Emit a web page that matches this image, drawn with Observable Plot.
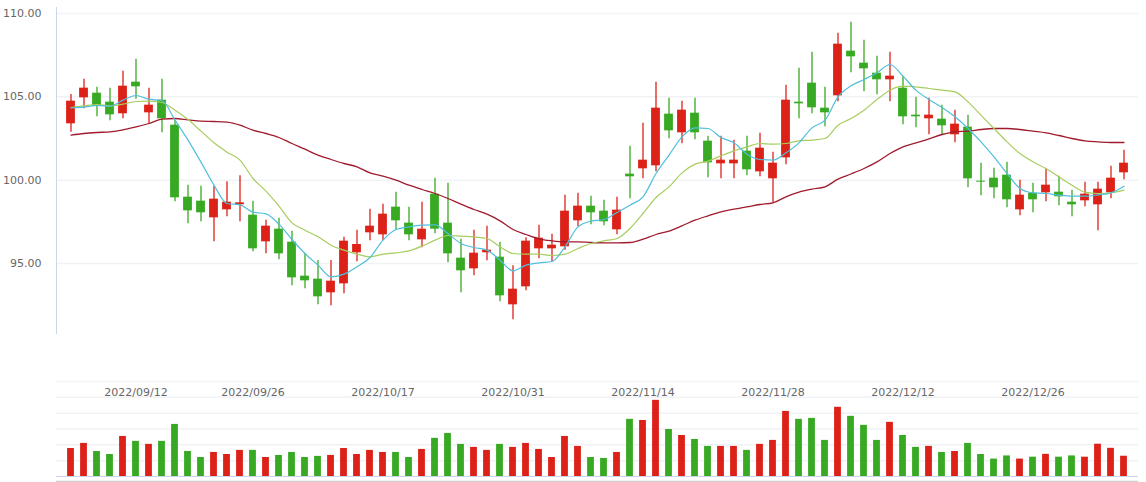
<!DOCTYPE html>
<html>
<head>
<meta charset="utf-8">
<script src="https://cdn.jsdelivr.net/npm/d3@7"></script>
<script src="https://cdn.jsdelivr.net/npm/@observablehq/plot@0.6"></script>
<style>
  html, body { margin: 0; padding: 0; background: #fff; }
  #chart svg { display: block; }
</style>
</head>
<body>
<div id="chart"></div>
<script>
// ---- Data ----
const opens = [103.38,104.94,105.22,104.68,103.98,105.88,104.04,104.80,103.30,98.98,
  98.74,97.74,98.22,98.52,97.90,96.30,97.06,96.28,94.24,94.06,
  93.24,93.78,95.64,96.84,96.72,98.38,97.42,96.42,99.16,97.42,
  95.32,94.68,95.64,95.38,92.52,93.60,95.88,95.88,96.00,97.56,
  98.44,98.14,97.02,100.36,100.68,100.86,103.96,102.84,104.02,102.34,
  100.98,100.98,101.74,100.50,100.08,101.34,104.68,105.82,104.32,105.06,
  107.74,107.02,106.42,106.02,105.52,103.90,103.68,103.66,102.72,103.18,
  99.94,100.12,100.30,98.22,99.22,99.24,99.28,98.68,98.76,98.52,
  99.24,100.44];
const closes = [104.74,105.52,104.42,103.92,105.64,105.60,104.50,103.68,98.94,98.16,
  98.04,98.86,98.68,98.64,95.88,97.24,95.58,94.14,93.96,93.00,
  93.94,96.34,96.14,97.24,97.96,97.56,96.72,97.06,97.06,95.58,
  94.56,95.62,95.80,93.06,93.46,96.34,96.52,96.10,98.14,98.44,
  98.04,97.50,98.20,100.20,101.20,104.32,102.96,104.20,102.84,101.04,
  101.20,101.20,100.62,101.92,101.02,104.80,104.58,104.34,104.04,108.16,
  107.40,106.68,106.02,106.24,103.80,103.80,103.90,103.26,103.36,100.08,
  99.88,99.54,98.82,99.10,98.82,99.70,99.00,98.52,99.16,99.46,
  100.12,101.02];
const highs = [105.14,106.06,105.58,105.52,106.54,107.26,105.52,106.06,103.60,99.70,
  99.64,99.64,99.90,100.26,98.74,97.60,97.72,96.94,95.60,95.18,
  95.18,96.58,97.00,98.26,98.56,99.28,98.38,98.68,100.12,99.82,
  96.46,97.00,97.24,96.28,94.86,96.54,97.30,96.76,99.10,99.22,
  99.04,98.80,98.98,102.04,103.42,105.88,104.92,104.74,104.92,102.64,
  102.64,102.40,102.64,102.82,101.68,105.70,106.72,107.68,105.58,108.82,
  109.48,108.40,107.44,107.68,106.24,104.98,104.92,104.50,104.20,103.90,
  101.02,100.72,101.08,100.00,99.82,100.66,100.24,99.40,99.88,99.88,
  100.84,101.80];
const lows = [102.88,104.28,103.80,103.56,103.68,104.86,103.38,102.84,98.70,97.38,
  97.50,96.30,97.80,97.50,95.70,95.58,95.22,93.66,93.48,92.52,
  92.46,93.18,95.10,96.36,96.36,97.00,96.36,95.94,96.78,95.04,
  93.24,94.26,95.16,92.70,91.62,93.36,95.28,95.12,95.80,97.20,
  97.32,97.26,96.72,98.88,100.08,100.50,102.48,102.18,102.42,100.14,
  100.08,100.08,100.26,100.20,98.64,100.92,103.68,103.98,103.20,104.70,
  106.44,105.30,105.12,104.70,103.32,103.14,102.72,102.68,102.24,99.54,
  99.06,98.88,98.34,97.86,98.04,98.70,98.46,97.80,98.40,96.96,
  98.88,100.02];
const ma5 = [104.34,104.38,104.48,104.44,104.80,105.08,104.86,104.78,103.60,102.40,
  101.08,99.70,98.60,98.52,98.08,97.98,97.36,96.44,95.60,94.90,
  94.20,94.36,94.80,95.36,96.40,97.04,97.20,97.30,97.32,96.80,
  96.20,95.96,95.80,95.20,94.56,94.90,95.04,95.12,96.00,97.20,
  97.54,97.64,98.06,98.50,99.00,100.40,101.50,102.60,103.14,103.10,
  102.56,102.24,101.56,101.24,101.20,101.64,102.24,103.14,103.60,105.00,
  105.66,106.04,106.44,106.94,106.24,105.40,104.84,104.36,103.80,103.10,
  102.30,101.40,100.40,99.50,99.24,99.20,99.10,99.04,99.04,99.12,
  99.24,99.64];
const ma10 = [104.36,104.46,104.54,104.46,104.56,104.72,104.74,104.66,104.20,103.64,
  102.94,102.24,101.68,101.20,100.10,99.34,98.44,97.44,97.00,96.60,
  96.10,95.80,95.56,95.40,95.56,95.64,95.76,96.04,96.40,96.68,
  96.64,96.60,96.50,96.00,95.60,95.56,95.56,95.48,95.56,95.90,
  96.20,96.36,96.50,97.10,98.00,98.96,99.60,100.44,100.96,101.14,
  101.46,101.76,102.00,102.20,102.16,102.20,102.36,102.40,102.50,103.30,
  103.70,104.20,104.84,105.40,105.64,105.60,105.50,105.40,105.30,104.70,
  103.90,103.10,102.30,101.60,101.10,100.70,100.20,99.70,99.28,99.20,
  99.24,99.40];
const ma30 = [102.70,102.80,102.86,102.90,103.02,103.20,103.40,103.66,103.70,103.62,
  103.54,103.52,103.48,103.30,103.00,102.80,102.56,102.20,101.86,101.50,
  101.24,101.00,100.80,100.44,100.24,100.00,99.70,99.44,99.20,98.90,
  98.56,98.24,97.96,97.56,97.04,96.74,96.48,96.36,96.30,96.30,
  96.26,96.24,96.24,96.26,96.46,96.74,96.94,97.26,97.60,97.86,
  98.10,98.26,98.40,98.54,98.64,99.00,99.28,99.46,99.60,100.06,
  100.37,100.70,101.10,101.60,102.00,102.24,102.48,102.74,102.90,102.94,
  103.04,103.10,103.10,103.04,102.94,102.84,102.68,102.50,102.36,102.30,
  102.26,102.26];
const volumes = [1.77,2.09,1.58,1.39,2.53,2.22,2.03,2.22,3.29,1.58,
  1.20,1.52,1.39,1.65,1.65,1.20,1.33,1.52,1.20,1.27,
  1.33,1.77,1.39,1.65,1.52,1.52,1.20,1.71,2.41,2.72,
  2.03,1.84,1.65,2.03,1.84,2.09,1.71,1.20,2.53,1.90,
  1.20,1.14,1.52,3.61,3.54,4.81,2.97,2.59,2.34,1.90,
  1.90,1.90,1.65,2.03,2.28,4.11,3.61,3.67,2.28,4.37,
  3.80,3.23,2.28,3.42,2.59,1.84,1.90,1.52,1.58,2.09,
  1.39,1.10,1.30,1.10,1.22,1.40,1.22,1.30,1.22,2.04,
  1.78,1.28];
const tickIndex = [5, 14, 24, 34, 44, 54, 64, 74];
const tickLabels = ["2022/09/12","2022/09/26","2022/10/17","2022/10/31",
                    "2022/11/14","2022/11/28","2022/12/12","2022/12/26"];
const priceTicks = [95, 100, 105, 110];
const volumeGrid = [1, 2, 3, 4, 5, 6];

// ---- Styles ----
const UP = "#dc2119", DOWN = "#38a923";
const C_MA5 = "#4fbfdc", C_MA10 = "#a7cd5e", C_MA30 = "#a01b2d";
const GRID = "#f0f2f5";
const AXIS = "#ccd6eb";
const TEXT = "#666";
const FONT = "'DejaVu Sans', sans-serif";

const rows = opens.map((o, i) => ({
  i, open: o, close: closes[i], high: highs[i], low: lows[i],
  ma5: ma5[i], ma10: ma10[i], ma30: ma30[i], vol: volumes[i],
  color: closes[i] >= o ? UP : DOWN
}));
const ticks = tickIndex.map((i, k) => ({i, label: tickLabels[k]}));
const xDomain = rows.map(d => d.i);

const W = 1146, ML = 56, MR = 8;

const main = Plot.plot({
  width: W, height: 340,
  marginLeft: ML, marginRight: MR, marginTop: 7, marginBottom: 7,
  style: {fontFamily: FONT, fontSize: "11px", color: TEXT, background: "#fff"},
  x: {type: "band", domain: xDomain, padding: 0, axis: null},
  y: {domain: [90.8, 110.36], axis: null},
  color: {type: "identity"},
  marks: [
    Plot.gridY(priceTicks, {stroke: GRID, strokeOpacity: 1, strokeWidth: 1.5}),
    Plot.frame({anchor: "left", stroke: AXIS}),
    Plot.axisY(priceTicks, {tickSize: 0, tickPadding: 15, tickFormat: d3.format(".2f"), fill: TEXT, fontSize: 11}),
    Plot.ruleX(rows, {x: "i", y1: "low", y2: "high", stroke: "color", strokeWidth: 1.3}),
    Plot.barY(rows, {x: "i", y1: "open", y2: "close", fill: "color", insetLeft: 2.1, insetRight: 2.1}),
    Plot.lineY(rows, {x: "i", y: "ma30", stroke: C_MA30, strokeWidth: 1.3, curve: "monotone-x"}),
    Plot.lineY(rows, {x: "i", y: "ma10", stroke: C_MA10, strokeWidth: 1.2, curve: "monotone-x"}),
    Plot.lineY(rows, {x: "i", y: "ma5", stroke: C_MA5, strokeWidth: 1.2, curve: "monotone-x"})
  ]
});

const vol = Plot.plot({
  width: W, height: 142,
  marginLeft: ML, marginRight: MR, marginTop: 41, marginBottom: 6,
  style: {fontFamily: FONT, fontSize: "11px", color: TEXT, background: "#fff", overflow: "visible"},
  x: {type: "band", domain: xDomain, padding: 0, axis: null},
  y: {domain: [0, 6], axis: null},
  color: {type: "identity"},
  marks: [
    Plot.gridY(volumeGrid, {stroke: GRID, strokeOpacity: 1, strokeWidth: 1.5}),
    Plot.text(ticks, {x: "i", text: "label", frameAnchor: "top", dy: 6.5, fill: TEXT, fontSize: 11}),
    Plot.barY(rows, {x: "i", y: "vol", fill: "color", insetLeft: 3.1, insetRight: 3.1}),
    Plot.ruleY([0], {stroke: AXIS, strokeWidth: 1.2}),
    Plot.ruleY([0], {stroke: "#cfcfcf", strokeWidth: 1.5, dy: 5})
  ]
});

const root = document.getElementById("chart");
root.appendChild(main);
root.appendChild(vol);
</script>
</body>
</html>
